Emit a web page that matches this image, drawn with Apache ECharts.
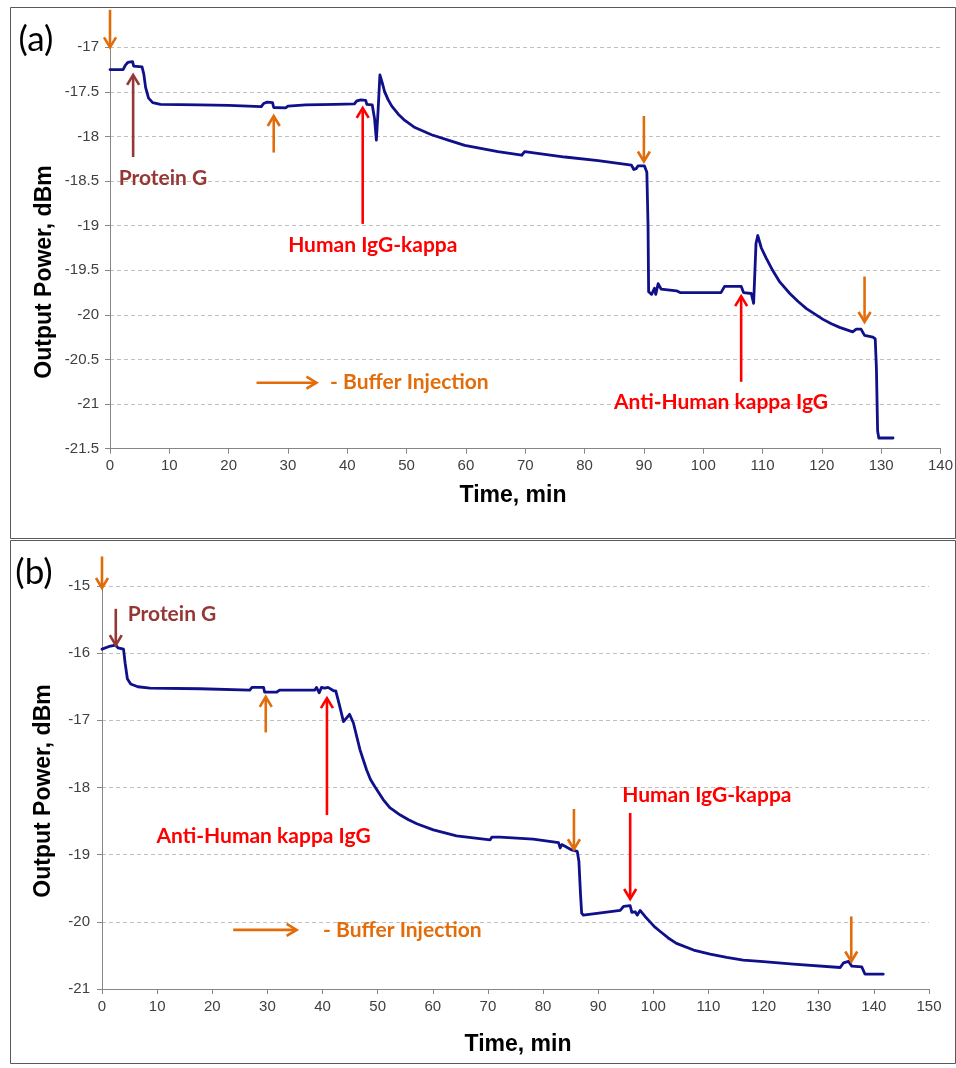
<!DOCTYPE html>
<html>
<head>
<meta charset="utf-8">
<script src="https://cdn.jsdelivr.net/npm/echarts@6/dist/echarts.min.js"></script>
<style>
  html, body { margin: 0; padding: 0; background: #fff; }
  #chart { width: 956px; height: 1068px; }
</style>
</head>
<body>
<div id="chart"></div>
<script>
// ---- data: [time (min), output power (dBm)] ----
var traceA = [
  [0,-17.25],[2.2,-17.25],[2.6,-17.2],[3.0,-17.17],[3.8,-17.16],[4.0,-17.21],[5.4,-17.22],
  [5.7,-17.3],[6.0,-17.45],[6.5,-17.57],[7.2,-17.62],[8.5,-17.64],[15,-17.645],[20,-17.65],
  [25.5,-17.665],[25.9,-17.63],[26.5,-17.615],[27.4,-17.62],[27.6,-17.675],[29.6,-17.68],
  [30,-17.66],[33,-17.645],[38,-17.64],[41.2,-17.635],[41.6,-17.6],[42.3,-17.59],[43.1,-17.595],
  [43.3,-17.64],[44.2,-17.645],[44.6,-17.8],[44.9,-18.04],[45.2,-17.7],[45.5,-17.31],
  [45.9,-17.40],[46.3,-17.50],[46.9,-17.59],[47.5,-17.66],[48.6,-17.75],[49.7,-17.82],
  [51.4,-17.90],[54.2,-17.98],[57.0,-18.04],[59.8,-18.10],
  [65.4,-18.17],[69.4,-18.21],[69.9,-18.17],[76.7,-18.23],[82.3,-18.27],[87.9,-18.32],
  [88.3,-18.37],[88.7,-18.36],[89.0,-18.33],[90.1,-18.33],[90.5,-18.4],[90.7,-19.0],
  [90.8,-19.74],[91.3,-19.77],[91.8,-19.7],[92.0,-19.77],[92.4,-19.65],[92.9,-19.71],
  [95.5,-19.73],[96.1,-19.75],[103.0,-19.75],[103.6,-19.68],[106.4,-19.68],[106.8,-19.75],
  [108.1,-19.76],[108.5,-19.87],[108.9,-19.2],[109.2,-19.11],[109.8,-19.25],[110.6,-19.36],
  [111.7,-19.5],[112.9,-19.63],[114.6,-19.76],[116.0,-19.85],[117.4,-19.93],[120.2,-20.05],
  [121.6,-20.10],[123.0,-20.14],[125.2,-20.19],[125.8,-20.16],
  [126.6,-20.16],[127.2,-20.23],[128.6,-20.25],[129.0,-20.27],[129.2,-20.6],[129.4,-21.3],
  [129.6,-21.38],[132.0,-21.38]
];
var traceB = [
  [0,-15.94],[1.3,-15.9],[2.5,-15.88],[2.9,-15.92],[3.9,-15.94],[4.2,-16.15],[4.6,-16.38],
  [5.2,-16.46],[6.5,-16.5],[8.7,-16.52],[17.8,-16.53],[26.8,-16.55],[27.2,-16.51],[29.3,-16.51],
  [29.5,-16.58],[31.7,-16.58],[32.2,-16.55],[35.9,-16.55],[38.6,-16.55],[38.9,-16.51],
  [39.4,-16.59],[39.8,-16.51],[40.4,-16.52],[41.0,-16.51],[42.0,-16.56],[42.4,-16.56],
  [43.0,-16.75],[43.8,-17.02],[44.3,-16.97],[44.9,-16.91],[45.6,-17.04],[46.8,-17.44],
  [47.4,-17.59],[48.0,-17.74],[48.7,-17.88],[49.5,-17.99],[51.0,-18.18],[52.2,-18.30],
  [54.1,-18.41],[55.6,-18.48],[57.1,-18.54],[60.1,-18.63],
  [64.3,-18.72],[70.4,-18.78],[70.7,-18.74],[72.2,-18.74],[78.2,-18.77],[82.8,-18.82],
  [83.1,-18.9],[83.4,-18.85],[84.3,-18.89],[85.2,-18.93],[86.2,-18.95],[86.5,-19.1],
  [86.8,-19.6],[87.0,-19.87],[87.3,-19.9],[94.0,-19.83],[94.6,-19.77],[95.8,-19.76],
  [96.1,-19.86],[96.7,-19.85],[97.1,-19.9],[97.6,-19.83],[98.5,-19.92],[99.4,-20.0],
  [100.3,-20.08],[101.2,-20.14],[102.7,-20.24],[104.2,-20.32],[107.3,-20.42],[110.3,-20.48],
  [113.3,-20.53],[116.3,-20.57],[119.4,-20.59],[125.4,-20.63],[133.9,-20.68],
  [134.5,-20.61],[135.4,-20.59],[136.0,-20.66],[137.8,-20.67],[138.4,-20.78],[141.7,-20.78]
];

// axis ranges [min, max, interval]
var xRangeA = [0, 140, 10];
var yRangeA = [-21.5, -17, 0.5];
var xRangeB = [0, 150, 10];
var yRangeB = [-21, -15, 1];

// annotation arrows in data units: [tailT, tailV, tipT, tipV, kind]
var arrowsA = [
  [0, -16.58, 0, -17.0, 'buffer'],
  [3.9, -18.23, 3.9, -17.31, 'protein'],
  [27.6, -18.18, 27.6, -17.77, 'buffer'],
  [42.6, -18.98, 42.6, -17.68, 'antibody'],
  [90.0, -17.77, 90.0, -18.28, 'buffer'],
  [106.4, -20.75, 106.4, -19.79, 'antibody'],
  [127.2, -19.57, 127.2, -20.08, 'buffer'],
  [24.7, -20.76, 34.8, -20.76, 'buffer']
];
var arrowsB = [
  [0, -14.56, 0, -15.03, 'buffer'],
  [2.5, -15.34, 2.5, -15.88, 'protein'],
  [29.7, -17.18, 29.7, -16.65, 'buffer'],
  [40.8, -18.41, 40.8, -16.67, 'antibody'],
  [85.6, -18.32, 85.6, -18.92, 'buffer'],
  [95.8, -18.38, 95.8, -19.66, 'antibody'],
  [135.9, -19.92, 135.9, -20.59, 'buffer'],
  [23.8, -20.12, 35.3, -20.12, 'buffer']
];
// annotation labels: [text, t, v, align, kind]
var labelsA = [
  ['Protein G', 8.93, -18.47, 'center', 'protein'],
  ['Human IgG-kappa', 44.3, -19.22, 'center', 'antibody'],
  ['Anti-Human kappa IgG', 103.0, -20.98, 'center', 'antibody'],
  ['- Buffer Injection', 37.1, -20.76, 'left', 'buffer']
];
var labelsB = [
  ['Protein G', 12.7, -15.42, 'center', 'protein'],
  ['Anti-Human kappa IgG', 29.3, -18.72, 'center', 'antibody'],
  ['Human IgG-kappa', 109.7, -18.12, 'center', 'antibody'],
  ['- Buffer Injection', 40.1, -20.12, 'left', 'buffer']
];

var colors = { buffer: '#e36c0a', protein: '#953735', antibody: '#ff0000' };
var lineColor = '#10108a';
var axisGray = '#868686';
var tickFont = 'Liberation Sans, Arial, sans-serif';
var noteFont = 'Lato, Open Sans, sans-serif';

function xAxisOf(range, grid, margin) {
  return {
    type: 'value', gridIndex: grid, min: range[0], max: range[1], interval: range[2],
    axisLine: { show: true, lineStyle: { color: axisGray, width: 1 } },
    axisTick: { show: true, length: 5, lineStyle: { color: axisGray } },
    axisLabel: { color: '#404040', fontSize: 15, fontFamily: tickFont, margin: margin },
    splitLine: { show: false }
  };
}
function yAxisOf(range, grid, margin) {
  return {
    type: 'value', gridIndex: grid, min: range[0], max: range[1], interval: range[2],
    axisLine: { show: true, lineStyle: { color: axisGray, width: 1 } },
    axisTick: { show: true, length: 5, lineStyle: { color: axisGray } },
    axisLabel: { color: '#404040', fontSize: 15, fontFamily: tickFont, margin: margin },
    splitLine: { show: true, lineStyle: { color: '#c0c0c0', type: [4, 3], width: 1 } }
  };
}

var chart = echarts.init(document.getElementById('chart'));
chart.setOption({
  animation: false,
  backgroundColor: '#fff',
  grid: [
    { left: 110, top: 47.3, width: 831, height: 401.4 },
    { left: 102, top: 586, width: 827, height: 403 }
  ],
  xAxis: [xAxisOf(xRangeA, 0, 10), xAxisOf(xRangeB, 1, 10)],
  yAxis: [yAxisOf(yRangeA, 0, 11), yAxisOf(yRangeB, 1, 12)],
  series: [
    { type: 'line', xAxisIndex: 0, yAxisIndex: 0, data: traceA, showSymbol: false,
      lineStyle: { color: lineColor, width: 2.8, join: 'round', cap: 'round' }, clip: false },
    { type: 'line', xAxisIndex: 1, yAxisIndex: 1, data: traceB, showSymbol: false,
      lineStyle: { color: lineColor, width: 2.8, join: 'round', cap: 'round' }, clip: false }
  ]
});

// ---- annotations (arrows and labels), placed through the axes ----
function arrowShapes(p0, p1, color) {
  var dx = p1[0] - p0[0], dy = p1[1] - p0[1];
  var len = Math.sqrt(dx * dx + dy * dy);
  var ux = dx / len, uy = dy / len, nx = -uy, ny = ux;
  var L = 10, W = 6;
  return [
    { type: 'line', silent: true, z: 50,
      shape: { x1: p0[0], y1: p0[1], x2: p1[0] - ux * 1.5, y2: p1[1] - uy * 1.5 },
      style: { stroke: color, lineWidth: 2.6 } },
    { type: 'polyline', silent: true, z: 50,
      shape: { points: [
        [p1[0] - ux * L + nx * W, p1[1] - uy * L + ny * W],
        [p1[0], p1[1]],
        [p1[0] - ux * L - nx * W, p1[1] - uy * L - ny * W]
      ] },
      style: { stroke: color, lineWidth: 2.6, fill: null, lineJoin: 'miter' } }
  ];
}

var graphics = [
  { type: 'rect', silent: true, z: 1, shape: { x: 10.5, y: 7.5, width: 945, height: 531 },
    style: { fill: null, stroke: '#595959', lineWidth: 1 } },
  { type: 'rect', silent: true, z: 1, shape: { x: 10.5, y: 540.5, width: 945, height: 523 },
    style: { fill: null, stroke: '#595959', lineWidth: 1 } },
  { type: 'text', silent: true, x: 36, y: 40,
    style: { text: '(a)', font: '35px ' + noteFont, fill: '#000', align: 'center', verticalAlign: 'middle' } },
  { type: 'text', silent: true, x: 34, y: 573,
    style: { text: '(b)', font: '35px ' + noteFont, fill: '#000', align: 'center', verticalAlign: 'middle' } },
  { type: 'text', silent: true, x: 45, y: 272, rotation: Math.PI / 2,
    style: { text: 'Output Power, dBm', font: 'bold 23px ' + tickFont, fill: '#000', align: 'center', verticalAlign: 'middle' } },
  { type: 'text', silent: true, x: 44, y: 791, rotation: Math.PI / 2,
    style: { text: 'Output Power, dBm', font: 'bold 23px ' + tickFont, fill: '#000', align: 'center', verticalAlign: 'middle' } },
  { type: 'text', silent: true, x: 513, y: 496,
    style: { text: 'Time, min', font: 'bold 23px ' + tickFont, fill: '#000', align: 'center', verticalAlign: 'middle' } },
  { type: 'text', silent: true, x: 518, y: 1045,
    style: { text: 'Time, min', font: 'bold 23px ' + tickFont, fill: '#000', align: 'center', verticalAlign: 'middle' } }
];

function addNotes(gridIndex, arrows, labels) {
  arrows.forEach(function (a) {
    var p0 = chart.convertToPixel({ gridIndex: gridIndex }, [a[0], a[1]]);
    var p1 = chart.convertToPixel({ gridIndex: gridIndex }, [a[2], a[3]]);
    graphics = graphics.concat(arrowShapes(p0, p1, colors[a[4]]));
  });
  labels.forEach(function (l) {
    var p = chart.convertToPixel({ gridIndex: gridIndex }, [l[1], l[2]]);
    graphics.push({ type: 'text', silent: true, z: 50, x: p[0], y: p[1],
      style: { text: l[0], font: 'bold 21px ' + noteFont, fill: colors[l[4]],
               align: l[3], verticalAlign: 'middle' } });
  });
}
addNotes(0, arrowsA, labelsA);
addNotes(1, arrowsB, labelsB);

chart.setOption({ graphic: graphics });
</script>
</body>
</html>
